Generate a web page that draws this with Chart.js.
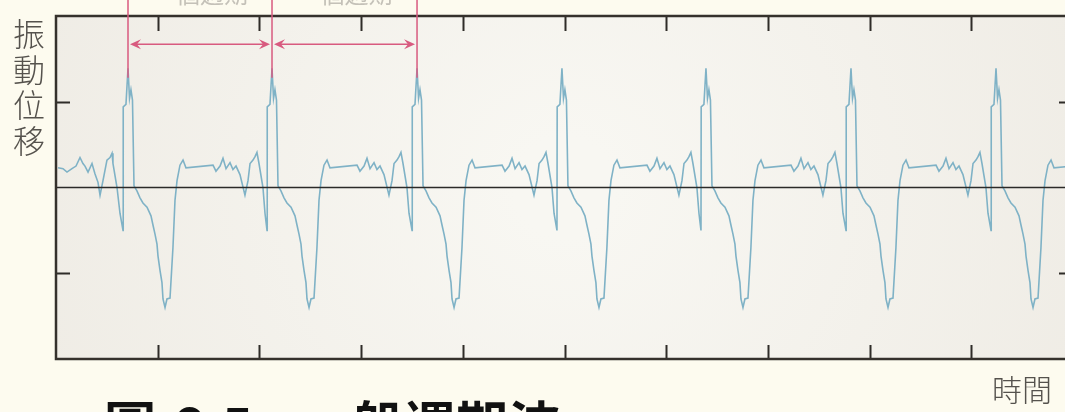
<!DOCTYPE html>
<html>
<head>
<meta charset="utf-8">
<script src="https://cdn.jsdelivr.net/npm/chart.js@4.4.1/dist/chart.umd.min.js"></script>
<style>
  html, body { margin: 0; padding: 0; background: #fdfbef; overflow: hidden; }
  #wrap { position: relative; width: 1090px; height: 412px; }
</style>
</head>
<body>
<div id="wrap"><canvas id="waveChart" width="1090" height="412"></canvas></div>
<script>
// trace: time (ms) and displacement, one cycle per line
var timeMs = [
  0.2, 0.69, 1.08, 1.57, 1.97, 2.36, 2.65, 2.85, 3.15, 3.54, 3.83, 4.13, 4.33, 4.62, 5.01, 5.31, 5.51, 5.60, 6.0, 6.29,
  6.59, 6.61, 6.88, 7.08, 7.23, 7.37, 7.52, 7.67, 7.96, 8.26, 8.55, 8.95, 9.34, 9.54, 9.73, 9.93, 10.03, 10.23, 10.42, 10.52, 10.72, 10.91, 11.21, 11.50, 11.70, 11.90, 12.19, 12.49, 12.78, 15.44, 15.73, 16.13, 16.42, 16.72, 17.11, 17.40, 17.70, 18.09, 18.58, 18.88, 19.08, 19.37, 19.57, 19.76, 19.96, 20.35, 20.55,
  20.75, 20.77, 21.04, 21.24, 21.39, 21.53, 21.68, 21.83, 22.12, 22.42, 22.71, 23.11, 23.50, 23.70, 23.89, 24.09, 24.19, 24.39, 24.58, 24.68, 24.88, 25.07, 25.37, 25.66, 25.86, 26.06, 26.35, 26.65, 26.94, 29.60, 29.89, 30.29, 30.58, 30.88, 31.27, 31.56, 31.86, 32.25, 32.74, 33.04, 33.24, 33.53, 33.73, 33.92, 34.12, 34.51, 34.71,
  35.01, 35.03, 35.30, 35.50, 35.65, 35.79, 35.94, 36.09, 36.38, 36.68, 36.97, 37.37, 37.76, 37.96, 38.15, 38.35, 38.45, 38.65, 38.84, 38.94, 39.14, 39.33, 39.63, 39.92, 40.12, 40.32, 40.61, 40.91, 41.20, 43.86, 44.15, 44.55, 44.84, 45.14, 45.53, 45.82, 46.12, 46.51, 47.00, 47.30, 47.50, 47.79, 47.99, 48.18, 48.38, 48.77, 48.97,
  49.26, 49.28, 49.55, 49.75, 49.90, 50.04, 50.19, 50.34, 50.63, 50.93, 51.22, 51.62, 52.01, 52.21, 52.40, 52.60, 52.70, 52.90, 53.09, 53.19, 53.39, 53.58, 53.88, 54.17, 54.37, 54.57, 54.86, 55.16, 55.45, 58.11, 58.40, 58.80, 59.09, 59.39, 59.78, 60.07, 60.37, 60.76, 61.25, 61.55, 61.75, 62.04, 62.24, 62.43, 62.63, 63.02, 63.22,
  63.42, 63.44, 63.71, 63.91, 64.06, 64.20, 64.35, 64.50, 64.79, 65.09, 65.38, 65.78, 66.17, 66.37, 66.56, 66.76, 66.86, 67.06, 67.25, 67.35, 67.55, 67.74, 68.04, 68.33, 68.53, 68.73, 69.02, 69.32, 69.61, 72.27, 72.56, 72.96, 73.25, 73.55, 73.94, 74.23, 74.53, 74.92, 75.41, 75.71, 75.91, 76.20, 76.40, 76.59, 76.79, 77.18, 77.38,
  77.68, 77.70, 77.97, 78.17, 78.32, 78.46, 78.61, 78.76, 79.05, 79.35, 79.64, 80.04, 80.43, 80.63, 80.82, 81.02, 81.12, 81.32, 81.51, 81.61, 81.81, 82.00, 82.30, 82.59, 82.79, 82.99, 83.28, 83.58, 83.87, 86.53, 86.82, 87.22, 87.51, 87.81, 88.20, 88.49, 88.79, 89.18, 89.67, 89.97, 90.17, 90.46, 90.66, 90.85, 91.05, 91.44, 91.64,
  91.94, 91.96, 92.23, 92.43, 92.58, 92.72, 92.87, 93.02, 93.31, 93.61, 93.90, 94.30, 94.69, 94.89, 95.08, 95.28, 95.38, 95.58, 95.77, 95.87, 96.07, 96.26, 96.56, 96.85, 97.05, 97.25, 97.54, 97.84, 98.13, 100.79
]
var displacement = [
  2.3, 2.2, 1.8, 2.2, 2.5, 3.5, 2.8, 2.5, 1.8, 2.8, 1.6, 0.6, -0.9, 0.8, 3.2, 3.5, 4.0, 2.8, 0, -3.0,
  -5.0, 9.4, 9.7, 13.9, 10.4, 11.4, 10.2, 0.2, -0.4, -1.2, -1.8, -2.3, -3.3, -4.4, -5.4, -6.6, -8.0, -9.7, -11.1, -13.0, -14.0, -13.0, -12.9, -7.0, -1.5, 0.8, 2.6, 3.2, 2.3, 2.6, 1.9, 2.5, 3.4, 2.2, 2.9, 2.1, 2.5, 1.5, -0.9, 0.8, 2.8, 3.2, 3.6, 4.1, 2.8, 0, -3.0,
  -5.0, 9.4, 9.7, 13.9, 10.4, 11.4, 10.2, 0.2, -0.4, -1.2, -1.8, -2.3, -3.3, -4.4, -5.4, -6.6, -8.0, -9.7, -11.1, -13.0, -14.0, -13.0, -12.9, -7.0, -1.5, 0.8, 2.6, 3.2, 2.3, 2.6, 1.9, 2.5, 3.4, 2.2, 2.9, 2.1, 2.5, 1.5, -0.9, 0.8, 2.8, 3.2, 3.6, 4.1, 2.8, 0, -3.0,
  -5.0, 9.4, 9.7, 13.9, 10.4, 11.4, 10.2, 0.2, -0.4, -1.2, -1.8, -2.3, -3.3, -4.4, -5.4, -6.6, -8.0, -9.7, -11.1, -13.0, -14.0, -13.0, -12.9, -7.0, -1.5, 0.8, 2.6, 3.2, 2.3, 2.6, 1.9, 2.5, 3.4, 2.2, 2.9, 2.1, 2.5, 1.5, -0.9, 0.8, 2.8, 3.2, 3.6, 4.1, 2.8, 0, -3.0,
  -5.0, 9.4, 9.7, 13.9, 10.4, 11.4, 10.2, 0.2, -0.4, -1.2, -1.8, -2.3, -3.3, -4.4, -5.4, -6.6, -8.0, -9.7, -11.1, -13.0, -14.0, -13.0, -12.9, -7.0, -1.5, 0.8, 2.6, 3.2, 2.3, 2.6, 1.9, 2.5, 3.4, 2.2, 2.9, 2.1, 2.5, 1.5, -0.9, 0.8, 2.8, 3.2, 3.6, 4.1, 2.8, 0, -3.0,
  -5.0, 9.4, 9.7, 13.9, 10.4, 11.4, 10.2, 0.2, -0.4, -1.2, -1.8, -2.3, -3.3, -4.4, -5.4, -6.6, -8.0, -9.7, -11.1, -13.0, -14.0, -13.0, -12.9, -7.0, -1.5, 0.8, 2.6, 3.2, 2.3, 2.6, 1.9, 2.5, 3.4, 2.2, 2.9, 2.1, 2.5, 1.5, -0.9, 0.8, 2.8, 3.2, 3.6, 4.1, 2.8, 0, -3.0,
  -5.0, 9.4, 9.7, 13.9, 10.4, 11.4, 10.2, 0.2, -0.4, -1.2, -1.8, -2.3, -3.3, -4.4, -5.4, -6.6, -8.0, -9.7, -11.1, -13.0, -14.0, -13.0, -12.9, -7.0, -1.5, 0.8, 2.6, 3.2, 2.3, 2.6, 1.9, 2.5, 3.4, 2.2, 2.9, 2.1, 2.5, 1.5, -0.9, 0.8, 2.8, 3.2, 3.6, 4.1, 2.8, 0, -3.0,
  -5.0, 9.4, 9.7, 13.9, 10.4, 11.4, 10.2, 0.2, -0.4, -1.2, -1.8, -2.3, -3.3, -4.4, -5.4, -6.6, -8.0, -9.7, -11.1, -13.0, -14.0, -13.0, -12.9, -7.0, -1.5, 0.8, 2.6, 3.2, 2.3, 2.6
]
var xTickValues = [10, 20, 30, 40, 50, 60, 70, 80, 90]
var yTickValues = [-10, 10]
var markedPeaks = [7.08, 21.24, 35.50]   // peaks joined by the red period arrows
var periodLabels = ['一個週期', '一個週期']
var yTitle = '振動位移'
var xTitle = '時間'
var captionParts = ['圖', '6-5', '一般週期波']
var captionX = [104, 172, 300]

var points = []
for (var i = 0; i < timeMs.length; i++) {
  points.push({ x: timeMs[i], y: displacement[i] })
}

function arrowHead(ctx, x, y, dir) {
  ctx.beginPath()
  ctx.moveTo(x, y)
  ctx.lineTo(x - dir * 11, y - 5)
  ctx.lineTo(x - dir * 7, y)
  ctx.lineTo(x - dir * 11, y + 5)
  ctx.closePath()
  ctx.fill()
}

var framePlugin = {
  id: 'frame',
  beforeDatasetsDraw: function(chart) {
    var ctx = chart.ctx, a = chart.chartArea
    ctx.save()
    var g = ctx.createRadialGradient((a.left + a.right) / 2, (a.top + a.bottom) / 2, 50,
                                     (a.left + a.right) / 2, (a.top + a.bottom) / 2, 560)
    g.addColorStop(0, '#f8f7f2')
    g.addColorStop(1, '#efece5')
    ctx.fillStyle = g
    ctx.fillRect(a.left, a.top, a.right - a.left, a.bottom - a.top)
    ctx.restore()
  },
  afterDatasetsDraw: function(chart) {
    var ctx = chart.ctx, a = chart.chartArea
    var xs = chart.scales.x, ys = chart.scales.y
    ctx.save()
    // zero line
    var y0 = ys.getPixelForValue(0)
    ctx.strokeStyle = '#2b2a28'
    ctx.lineWidth = 1.5
    ctx.beginPath()
    ctx.moveTo(a.left, y0)
    ctx.lineTo(a.right, y0)
    ctx.stroke()
    // inner ticks
    ctx.lineWidth = 2
    ctx.strokeStyle = '#2f2c28'
    xTickValues.forEach(function(v) {
      var px = Math.round(xs.getPixelForValue(v)) + 0.5
      ctx.beginPath()
      ctx.moveTo(px, a.top); ctx.lineTo(px, a.top + 15)
      ctx.moveTo(px, a.bottom); ctx.lineTo(px, a.bottom - 14)
      ctx.stroke()
    })
    yTickValues.forEach(function(v) {
      var py = Math.round(ys.getPixelForValue(v)) + 0.5
      ctx.beginPath()
      ctx.moveTo(a.left, py); ctx.lineTo(a.left + 14, py)
      ctx.moveTo(a.right, py); ctx.lineTo(a.right - 14, py)
      ctx.stroke()
    })
    // frame
    ctx.lineWidth = 2.5
    ctx.strokeStyle = '#35312c'
    ctx.strokeRect(a.left, a.top, a.right - a.left, a.bottom - a.top)

    // red period markers
    var topY = ys.getPixelForValue(22)
    var botY = ys.getPixelForValue(12.8)
    var arrowY = ys.getPixelForValue(16.7)
    ctx.strokeStyle = '#d85a7f'
    ctx.fillStyle = '#d85a7f'
    ctx.lineWidth = 1.5
    var px = markedPeaks.map(function(v) { return xs.getPixelForValue(v) })
    px.forEach(function(x) {
      ctx.beginPath()
      ctx.moveTo(x, topY); ctx.lineTo(x, botY)
      ctx.stroke()
    })
    ctx.font = '24px "Noto Sans CJK TC"'
    ctx.textAlign = 'center'
    ctx.textBaseline = 'alphabetic'
    for (var k = 0; k + 1 < px.length; k++) {
      var l = px[k] + 2, r = px[k + 1] - 2
      ctx.beginPath()
      ctx.moveTo(l + 6, arrowY); ctx.lineTo(r - 6, arrowY)
      ctx.stroke()
      arrowHead(ctx, l, arrowY, -1)
      arrowHead(ctx, r, arrowY, 1)
      ctx.fillStyle = '#c4c1b8'
      ctx.fillText(periodLabels[k], (px[k] + px[k + 1]) / 2, 3)
      ctx.fillStyle = '#d85a7f'
    }

    // axis titles and caption
    ctx.fillStyle = '#55524d'
    ctx.font = '300 32px "Noto Sans CJK TC"'
    ctx.textAlign = 'center'
    ctx.textBaseline = 'middle'
    for (var c = 0; c < yTitle.length; c++) {
      ctx.fillText(yTitle[c], 29, 34 + c * 35.5)
    }
    ctx.font = '300 30px "Noto Sans CJK TC"'
    ctx.fillText(xTitle, 1022, 390)
    ctx.fillStyle = '#111'
    ctx.font = 'bold 52px "Noto Sans CJK TC"'
    ctx.textAlign = 'left'
    ctx.textBaseline = 'alphabetic'
    captionParts.forEach(function(t, j) {
      ctx.fillText(t, captionX[j], 445)
    })
    ctx.restore()
  }
}

new Chart(document.getElementById('waveChart'), {
  type: 'line',
  data: {
    datasets: [{
      data: points,
      borderColor: '#7fb2c6',
      borderWidth: 1.6,
      pointRadius: 0,
      tension: 0,
      fill: false
    }]
  },
  options: {
    responsive: false,
    animation: false,
    layout: { padding: { left: 56, top: 16, right: 17, bottom: 53 } },
    plugins: { legend: { display: false }, tooltip: { enabled: false } },
    scales: {
      x: { type: 'linear', min: 0, max: 100, display: false },
      y: { type: 'linear', min: -20, max: 20, display: false }
    }
  },
  plugins: [framePlugin]
})
</script>
</body>
</html>
